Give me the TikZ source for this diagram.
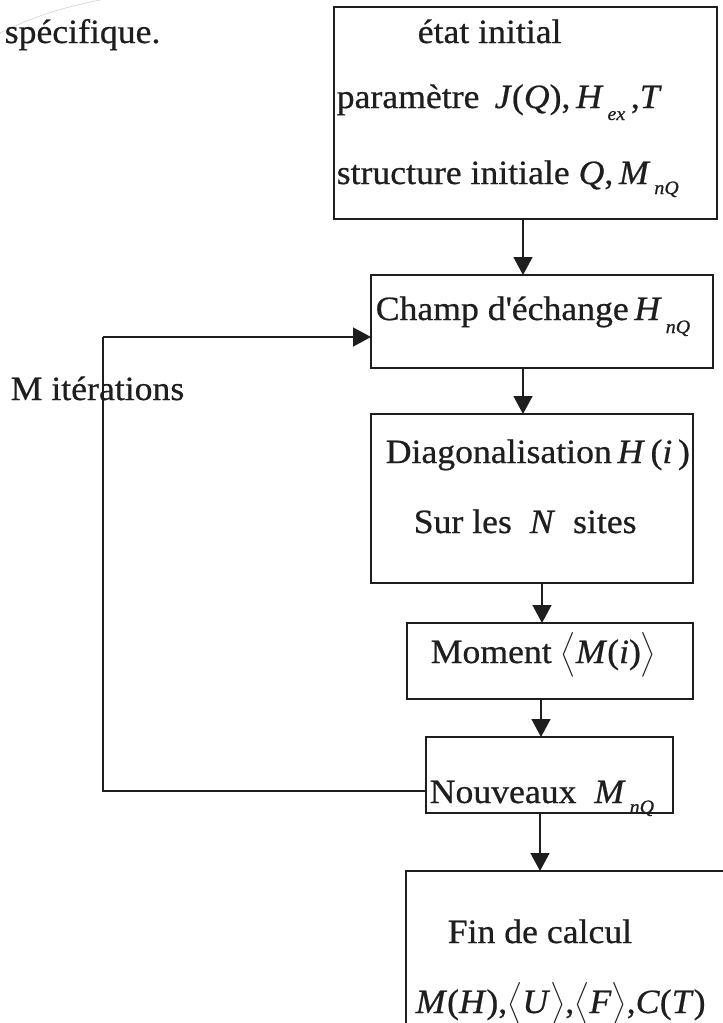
\documentclass[tikz,border=0pt]{standalone}
\usepackage{fix-cm}
\usepackage{amsmath}
\usepackage{fontspec}
\setmainfont{Liberation Serif}[FakeStretch=1.05, FakeBold=0.6]
\usetikzlibrary{arrows.meta}
\newcommand{\lsub}[2][12pt]{\hspace{4pt}\raisebox{-#1}{\fontsize{19}{19}\selectfont\itshape #2}}
\newcommand{\la}{\ensuremath{\big\langle}}
\newcommand{\ra}{\ensuremath{\big\rangle}}
\definecolor{ink}{HTML}{1E1E1E}
\tikzset{
  box/.style={draw=ink, rectangle, inner sep=0pt, outer sep=0pt, anchor=north west},
  txt/.style={anchor=base west, inner sep=0pt, text=ink, font=\fontsize{34}{40}\selectfont},
  arr/.style={draw=ink, -{Triangle[width=19pt,length=18pt]}},
  plain/.style={draw=ink}
}
\begin{document}
\begin{tikzpicture}[x=1pt, y=-1pt, line width=1.5pt]
\useasboundingbox (0,0) rectangle (723,1023);
\clip (0,0) rectangle (723,1023);
\fill[white] (0,0) rectangle (723,1023);
% faint scan line
\draw[gray!40, line width=0.5pt] (0,33) .. controls (30,18) and (60,8) .. (100,0);
% boxes
\node[box, minimum width=383, minimum height=212] (b1) at (334,7) {};
\node[box, minimum width=342, minimum height=93] (b2) at (371,275) {};
\node[box, minimum width=322, minimum height=169] (b3) at (371,414) {};
\node[box, minimum width=286, minimum height=76] (b4) at (407,623) {};
\node[box, minimum width=247, minimum height=76] (b5) at (426,737) {};
\node[box, minimum width=340, minimum height=200] (b6) at (406,871) {};
% texts
\node[txt] (t0) at (4,43) {spécifique.};
\node[txt] (t1) at (417,43) {état initial};
\node[txt] (t2) at (336,108) {paramètre\hspace{0.45em}\textit{J}(\textit{Q}),\,\textit{H}\lsub{ex}\,,\textit{T}};
\node[txt] (t3) at (336,184) {structure initiale \textit{Q},\,\textit{M}\lsub[10pt]{nQ}};
\node[txt] (t4) at (375,320) {Champ d\textquotesingle échange\,\textit{H}\lsub[13pt]{nQ}};
\node[txt] (t5) at (10,400) {M itérations};
\node[txt] (t6) at (385,463) {Diagonalisation\,\textit{H}\,(\textit{i}\,)};
\node[txt] (t7) at (413,533) {Sur les\ \ \textit{N}\ \ sites};
\node[txt] (t8) at (430,663) {Moment \la\textit{M}(\textit{i})\ra};
\node[txt] (t9) at (429,803) {Nouveaux\ \ \textit{M}\lsub[10pt]{nQ}};
\node[txt] (t10) at (447,943) {Fin de calcul};
\node[txt] (t11) at (415,1013) {\textit{M}(\textit{H}),\la\textit{U}\ra,\la\textit{F}\ra,\textit{C}(\textit{T})};
% connector columns
\coordinate (c1) at (523,0);
\coordinate (c3) at (542,0);
\coordinate (c4) at (541,0);
\coordinate (c5) at (540,0);
\draw[arr] (b1.south -| c1) -- (b2.north -| c1);
\draw[arr] (b2.south -| c1) -- (b3.north -| c1);
\draw[arr] (b3.south -| c3) -- (b4.north -| c3);
\draw[arr] (b4.south -| c4) -- (b5.north -| c4);
\draw[arr] (b5.south -| c5) -- (b6.north -| c5);
% feedback loop
\coordinate (fb1) at (103,791);
\coordinate (fb2) at (103,337);
\draw[plain] (b5.west |- fb1) -- (fb1) -- (fb2);
\draw[arr] (fb2) -- (fb2 -| b2.west);
\end{tikzpicture}
\end{document}
